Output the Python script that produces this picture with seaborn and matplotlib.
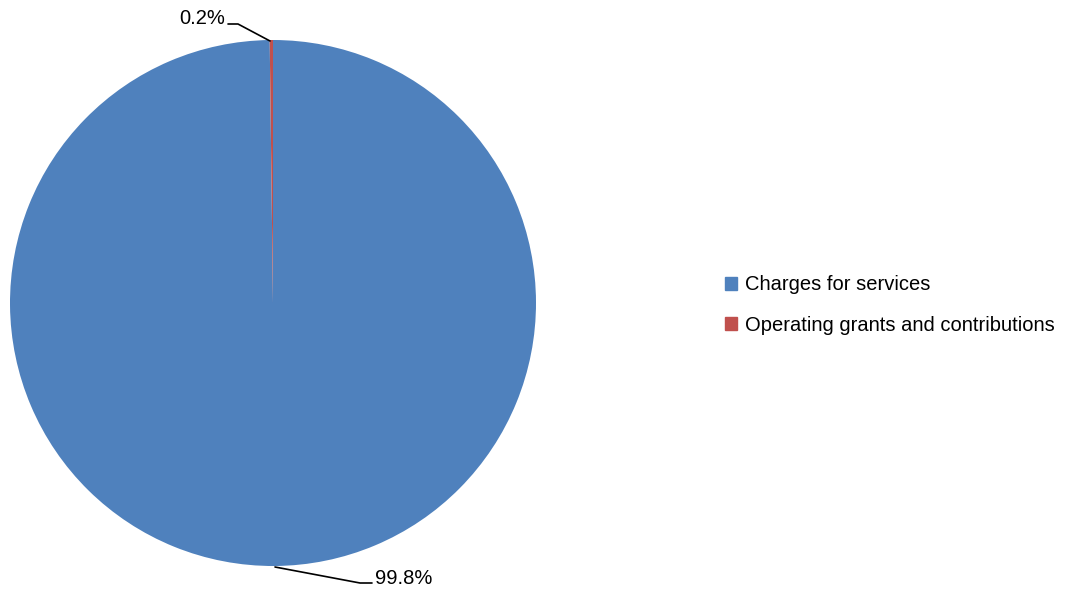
import matplotlib
matplotlib.use("Agg")
import matplotlib.pyplot as plt
import matplotlib.patches as mpatches
import seaborn as sns

categories = ["Charges for services", "Operating grants and contributions"]
values = [99.8, 0.2]
pct_labels = ["99.8%", "0.2%"]
colors = ["#4F81BD", "#C0504D"]

sns.set_theme(style="white")
plt.rcParams['font.family'] = ['Liberation Sans', 'DejaVu Sans']

W, H = 1075, 589
fig = plt.figure(figsize=(W / 100, H / 100), dpi=100)
cx, cy, r = 273, 303, 263
ax = fig.add_axes([(cx - r) / W, (H - cy - r) / H, 2 * r / W, 2 * r / H])

wedges, _ = ax.pie(values, colors=colors, startangle=90, counterclock=False,
                   radius=1, wedgeprops=dict(linewidth=0))
ax.set_xlim(-1, 1)
ax.set_ylim(-1, 1)
ax.axis("off")

def d(px, py):
    return ((px - cx) / r, (cy - py) / r)

# leader lines
p = [d(270, 41), d(238, 24), d(228, 24)]
ax.plot([q[0] for q in p], [q[1] for q in p], color="black", lw=1.2, clip_on=False)
ax.text(*d(225, 18), pct_labels[1], ha="right", va="center", fontsize=14.5, color="black")

p = [d(275, 567), d(360, 583), d(372, 583)]
ax.plot([q[0] for q in p], [q[1] for q in p], color="black", lw=1.2, clip_on=False)
ax.text(*d(375, 578), pct_labels[0], ha="left", va="center", fontsize=14.5, color="black")

handles = [mpatches.Patch(color=c, label=l) for c, l in zip(colors, categories)]
leg = fig.legend(handles=handles, loc="center left", bbox_to_anchor=(717 / W, 1 - 305 / H),
                 frameon=False, fontsize=14.5, handlelength=0.6, handleheight=0.6,
                 handletextpad=0.4, labelspacing=1.05, borderaxespad=0)
for t in leg.get_texts():
    t.set_color("black")

fig.savefig("out.png", dpi=100)
